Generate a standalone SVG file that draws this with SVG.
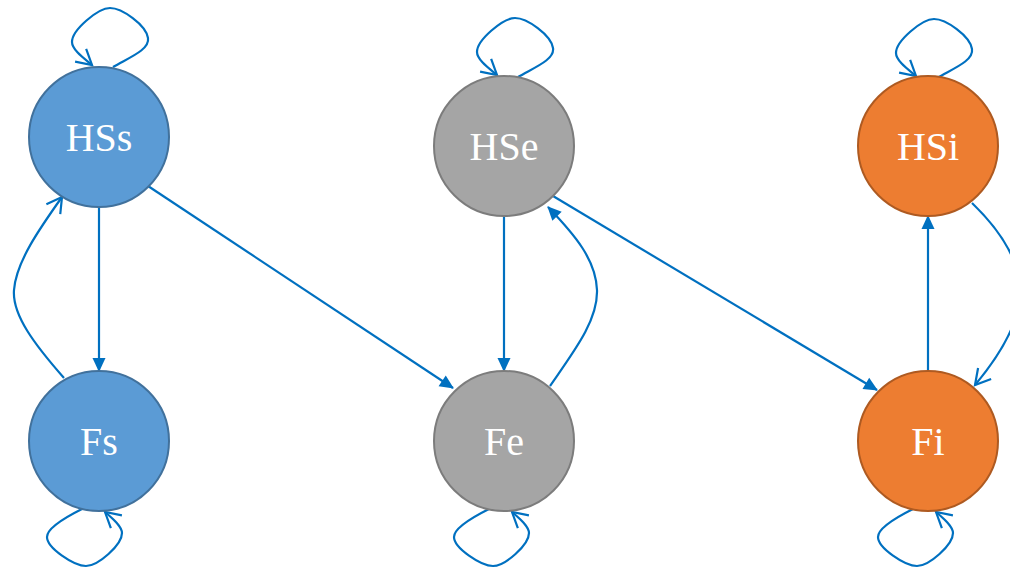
<svg xmlns="http://www.w3.org/2000/svg" width="1010" height="568" viewBox="0 0 1010 568">
<style>
.n{stroke-width:2}
.blue{fill:#5B9BD5;stroke:#41719C}
.grey{fill:#A5A5A5;stroke:#7C7C7C}
.orange{fill:#ED7D31;stroke:#AE5A21}
.t{font-family:"Liberation Serif","Times New Roman",serif;font-size:40px;fill:#ffffff;text-anchor:middle}
.e{fill:none;stroke:#0070C0;stroke-width:2.2}
.ef{marker-end:url(#fa)}
.eo{marker-end:url(#oa)}
</style>
<defs>
<marker id="fa" markerUnits="userSpaceOnUse" markerWidth="14" markerHeight="13" refX="13" refY="6.5" orient="auto" overflow="visible">
<path d="M0,0 L14,6.5 L0,13 z" fill="#0070C0"/>
</marker>
<marker id="oa" markerUnits="userSpaceOnUse" markerWidth="20" markerHeight="20" refX="16" refY="10" orient="auto" overflow="visible">
<path d="M1,1.5 L16,10 L1,18.5" fill="none" stroke="#0070C0" stroke-width="2.2"/>
</marker>
</defs>
<g id="edges">
<path class="e ef" d="M99,207 L99,371"/>
<path class="e ef" d="M148,186 L453,388"/>
<path class="e ef" d="M504,216 L504,371"/>
<path class="e ef" d="M553,196 L877,390"/>
<path class="e ef" d="M928,371 L928,216"/>
<path class="e eo" d="M64,378 C35,345 12,315 14,290 C16,262 40,228 62,197"/>
<path class="e ef" d="M550,386 C575,350 598,320 597,290 C596,260 575,235 548,207"/>
<path class="e eo" d="M972,203 C1000,230 1020,260 1020,292 C1020,322 1000,355 975,385"/>
<path class="e eo" d="M113,67 C128,58 150,50 148,38 C146,25 122,8 110,8 C98,8 72,30 72,42 C72,50 85,59 92,65"/>
<path class="e eo" transform="translate(405,10)" d="M113,67 C128,58 150,50 148,38 C146,25 122,8 110,8 C98,8 72,30 72,42 C72,50 85,59 92,65"/>
<path class="e eo" transform="translate(824,11)" d="M113,67 C128,58 150,50 148,38 C146,25 122,8 110,8 C98,8 72,30 72,42 C72,50 85,59 92,65"/>
<path class="e eo" d="M82,509 C70,515 47,527 47,537 C47,548 74,566 86,566 C98,566 122,545 122,533 C122,526 112,518 105,512"/>
<path class="e eo" transform="translate(407,0)" d="M82,509 C70,515 47,527 47,537 C47,548 74,566 86,566 C98,566 122,545 122,533 C122,526 112,518 105,512"/>
<path class="e eo" transform="translate(831,0)" d="M82,509 C70,515 47,527 47,537 C47,548 74,566 86,566 C98,566 122,545 122,533 C122,526 112,518 105,512"/>
</g>
<g id="HSs"><circle class="n blue" cx="99" cy="137" r="70"/><text class="t" x="99" y="151">HSs</text></g>
<g id="Fs"><circle class="n blue" cx="99" cy="441" r="70"/><text class="t" x="99" y="455">Fs</text></g>
<g id="HSe"><circle class="n grey" cx="504" cy="146" r="70"/><text class="t" x="504" y="160">HSe</text></g>
<g id="Fe"><circle class="n grey" cx="504" cy="441" r="70"/><text class="t" x="504" y="455">Fe</text></g>
<g id="HSi"><circle class="n orange" cx="928" cy="146" r="70"/><text class="t" x="928" y="160">HSi</text></g>
<g id="Fi"><circle class="n orange" cx="928" cy="441" r="70"/><text class="t" x="928" y="455">Fi</text></g>
</svg>
